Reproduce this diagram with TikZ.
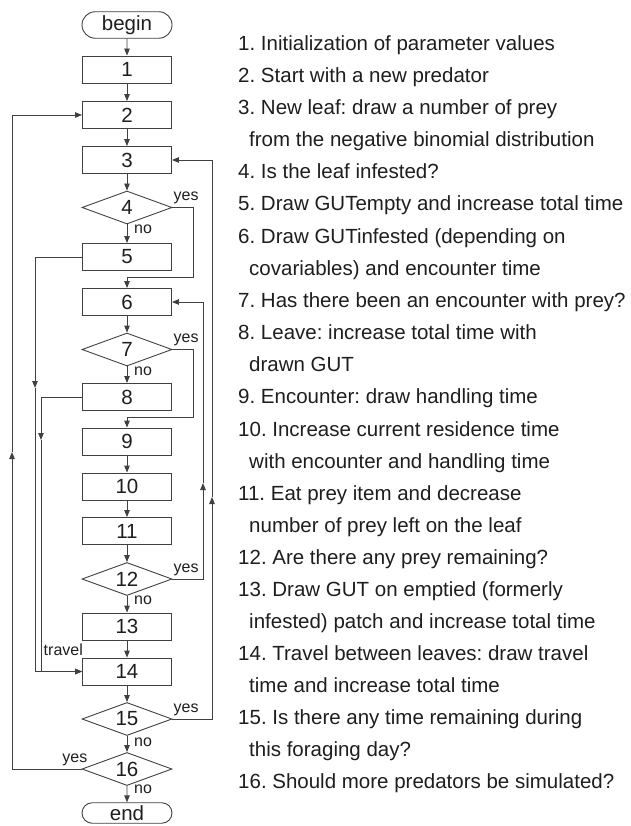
\documentclass[tikz,border=0pt]{standalone}
\usepackage{fontspec}
\setmainfont{Liberation Sans}
\usetikzlibrary{arrows.meta,shapes.geometric,shapes.misc}
\definecolor{ln}{HTML}{404040}
\definecolor{tx}{HTML}{1E1E1E}
\frenchspacing
\begin{document}
\begin{tikzpicture}[x=1pt,y=-1pt,
  every node/.style={text=tx, font=\fontsize{20.5}{24}\selectfont},
  box/.style={draw=ln, line width=0.9pt, rectangle, minimum width=89pt, minimum height=27pt, inner sep=0pt},
  dec/.style={draw=ln, line width=0.9pt, diamond, shape aspect=2.7, minimum width=90pt, minimum height=33pt, inner sep=0pt},
  term/.style={draw=ln, line width=0.9pt, rounded rectangle, minimum width=90pt, inner sep=0pt},
  conn/.style={draw=ln, line width=0.9pt, -{Triangle[length=7pt,width=5.5pt]}},
  plain/.style={draw=ln, line width=0.9pt},
  lbl/.style={font=\fontsize{16}{18}\selectfont, inner sep=0pt},
  item/.style={anchor=base west, inner sep=0pt}]
\useasboundingbox (0,0) rectangle (630,826);

% flowchart nodes
\node[term, minimum height=26.5pt] (begin) at (127,25) {begin};
\node[box] (b1) at (127,69.5) {1};
\node[box] (b2) at (127,115) {2};
\node[box] (b3) at (127,160) {3};
\node[dec] (d4) at (127,207.5) {4};
\node[box] (b5) at (127,257) {5};
\node[box] (b6) at (127,302) {6};
\node[dec] (d7) at (127,349.5) {7};
\node[box] (b8) at (127,397) {8};
\node[box] (b9) at (127,441.5) {9};
\node[box] (b10) at (127,486.5) {10};
\node[box] (b11) at (127,531) {11};
\node[dec] (d12) at (127,579) {12};
\node[box] (b13) at (127,626.5) {13};
\node[box] (b14) at (127,671.5) {14};
\node[dec] (d15) at (127,719) {15};
\node[dec] (d16) at (127,769) {16};
\node[term, minimum height=20.5pt] (end) at (127,813) {end};

% straight connectors
\draw[conn] (begin) -- (b1);
\draw[conn] (b1) -- (b2);
\draw[conn] (b2) -- (b3);
\draw[conn] (b3) -- (d4);
\draw[conn] (d4) -- (b5);
\draw[conn] (b6) -- (d7);
\draw[conn] (d7) -- (b8);
\draw[conn] (b9) -- (b10);
\draw[conn] (b10) -- (b11);
\draw[conn] (b11) -- (d12);
\draw[conn] (d12) -- (b13);
\draw[conn] (b13) -- (b14);
\draw[conn] (b14) -- (d15);
\draw[conn] (d15) -- (d16);
\draw[conn] (d16) -- (end);

% bends
\coordinate (k4) at (193,277);
\draw[conn] (d4.east) -| (k4) -| (b6.north);
\coordinate (k7) at (193,417);
\draw[conn] (d7.east) -| (k7) -| (b9.north);

\coordinate (m12) at (203,483);
\draw[conn] (d12.east) -| (m12);
\draw[conn] (m12) |- (b6.east);
\coordinate (m15) at (212,497);
\draw[conn] (d15.east) -| (m15);
\draw[conn] (m15) |- (b3.east);

\coordinate (m16) at (12,452);
\draw[conn] (d16.west) -| (m16);
\draw[conn] (m16) |- (b2.west);

\coordinate (m5) at (35,388);
\draw[conn] (b5.west) -| (m5);
\draw[conn] (m5) |- (b14.west);
\coordinate (m8) at (41,440);
\draw[conn] (b8.west) -| (m8);
\draw[conn] (m8) |- (b14.west);

% labels
\node[lbl, anchor=base west] (y4) at ([xshift=1pt,yshift=7pt]d4.east) {yes};
\node[lbl, anchor=base west] (n4) at ([xshift=7pt,yshift=-9pt]d4.south) {no};
\node[lbl, anchor=base west] (y7) at ([xshift=1pt,yshift=7pt]d7.east) {yes};
\node[lbl, anchor=base west] (n7) at ([xshift=7pt,yshift=-9pt]d7.south) {no};
\node[lbl, anchor=base west] (y12) at ([xshift=1pt,yshift=7pt]d12.east) {yes};
\node[lbl, anchor=base west] (n12) at ([xshift=7pt,yshift=-9pt]d12.south) {no};
\node[lbl, anchor=base west] (y15) at ([xshift=1pt,yshift=7pt]d15.east) {yes};
\node[lbl, anchor=base west] (n15) at ([xshift=7pt,yshift=-11pt]d15.south) {no};
\node[lbl, anchor=base east] (y16) at ([xshift=6pt,yshift=7pt]d16.west) {yes};
\node[lbl, anchor=base west] (n16) at ([xshift=7pt,yshift=-8pt]d16.south) {no};
\node[lbl, anchor=base east] (trv) at ([xshift=1pt,yshift=16pt]b14.west) {travel};

% legend
\node[item] (l1)  at (238,51)  {1. Initialization of parameter values};
\node[item] (l2)  at (238,83)  {2. Start with a new predator};
\node[item] (l3)  at (238,115) {3. New leaf: draw a number of prey};
\node[item] (l3b) at (249,147) {from the negative binomial distribution};
\node[item] (l4)  at (238,179) {4. Is the leaf infested?};
\node[item] (l5)  at (238,211) {5. Draw GUTempty and increase total time};
\node[item] (l6)  at (238,243) {6. Draw GUTinfested (depending on};
\node[item] (l6b) at (249,275) {covariables) and encounter time};
\node[item] (l7)  at (238,307) {7. Has there been an encounter with prey?};
\node[item] (l8)  at (238,339) {8. Leave: increase total time with};
\node[item] (l8b) at (249,371) {drawn GUT};
\node[item] (l9)  at (238,403) {9. Encounter: draw handling time};
\node[item] (l10) at (238,436) {10. Increase current residence time};
\node[item] (l10b) at (249,468) {with encounter and handling time};
\node[item] (l11) at (238,500) {11. Eat prey item and decrease};
\node[item] (l11b) at (249,532) {number of prey left on the leaf};
\node[item] (l12) at (238,564) {12. Are there any prey remaining?};
\node[item] (l13) at (238,596) {13. Draw GUT on emptied (formerly};
\node[item] (l13b) at (249,628) {infested) patch and increase total time};
\node[item] (l14) at (238,660) {14. Travel between leaves: draw travel};
\node[item] (l14b) at (249,692) {time and increase total time};
\node[item] (l15) at (238,724) {15. Is there any time remaining during};
\node[item] (l15b) at (249,756) {this foraging day?};
\node[item] (l16) at (238,788) {16. Should more predators be simulated?};
\end{tikzpicture}
\end{document}
